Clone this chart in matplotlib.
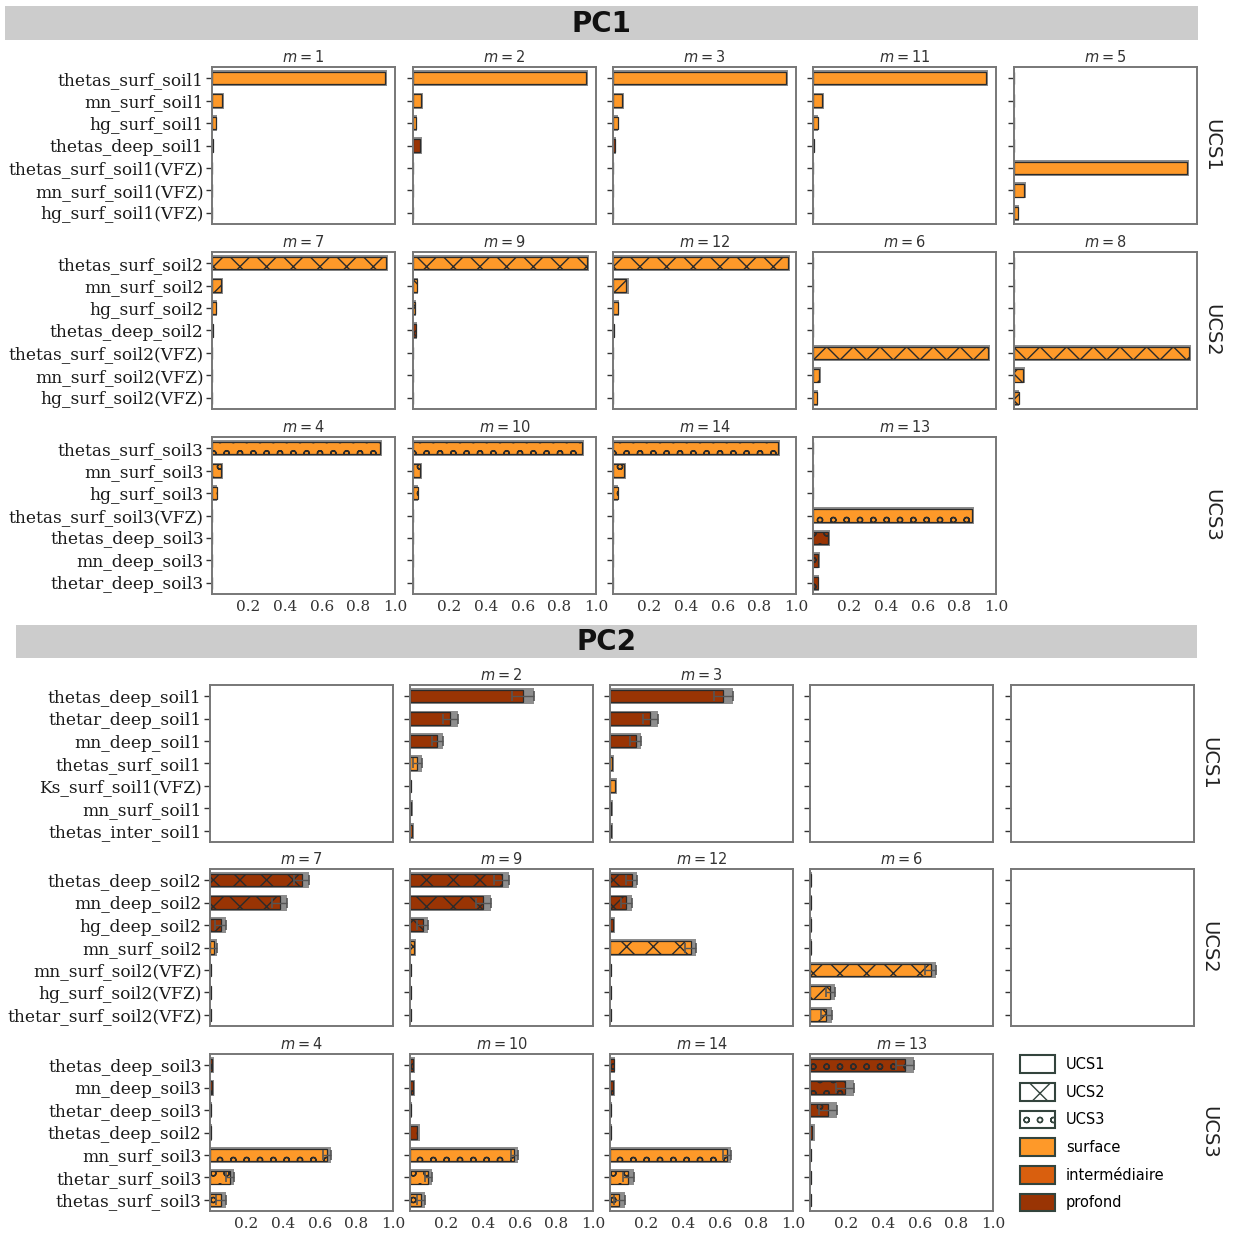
import matplotlib
matplotlib.use("Agg")
import matplotlib.pyplot as plt
from matplotlib.patches import Patch

# ---------------- data ----------------
layer_names = ["surface", "intermédiaire", "profond"]
layer_colors = ["#fe9929", "#d95f0e", "#993404"]
ucs_names = ["UCS1", "UCS2", "UCS3"]
ucs_hatches = ["", "xx", "oo"]
legend_hatches = ["", "x", "oo"]
xtick_vals = [0.2, 0.4, 0.6, 0.8, 1.0]

# PC1
pc1_r1_labels = ["thetas_surf_soil1", "mn_surf_soil1", "hg_surf_soil1", "thetas_deep_soil1",
                 "thetas_surf_soil1(VFZ)", "mn_surf_soil1(VFZ)", "hg_surf_soil1(VFZ)"]
pc1_r1_m = [1, 2, 3, 11, 5]
pc1_r1_vals = [[0.945, 0.055, 0.02, 0.003, 0, 0, 0],
               [0.945, 0.045, 0.015, 0.04, 0, 0, 0],
               [0.945, 0.05, 0.025, 0.01, 0, 0, 0],
               [0.945, 0.05, 0.025, 0.005, 0, 0, 0],
               [0, 0, 0, 0, 0.945, 0.055, 0.02]]
pc1_r1_errs = [[0.01, 0.01, 0.005, 0.003, 0, 0, 0],
               [0.01, 0.01, 0.005, 0.01, 0, 0, 0],
               [0.01, 0.01, 0.005, 0.005, 0, 0, 0],
               [0.01, 0.01, 0.005, 0.003, 0, 0, 0],
               [0, 0, 0, 0, 0.01, 0.01, 0.005]]

pc1_r2_labels = ["thetas_surf_soil2", "mn_surf_soil2", "hg_surf_soil2", "thetas_deep_soil2",
                 "thetas_surf_soil2(VFZ)", "mn_surf_soil2(VFZ)", "hg_surf_soil2(VFZ)"]
pc1_r2_m = [7, 9, 12, 6, 8]
pc1_r2_vals = [[0.95, 0.05, 0.02, 0.005, 0, 0, 0],
               [0.95, 0.02, 0.01, 0.015, 0, 0, 0],
               [0.955, 0.07, 0.03, 0.005, 0, 0, 0],
               [0, 0, 0, 0, 0.955, 0.035, 0.02],
               [0, 0, 0, 0, 0.955, 0.05, 0.025]]
pc1_r2_errs = [[0.01, 0.01, 0.005, 0.003, 0, 0, 0],
               [0.01, 0.005, 0.005, 0.005, 0, 0, 0],
               [0.01, 0.015, 0.005, 0.003, 0, 0, 0],
               [0, 0, 0, 0, 0.01, 0.01, 0.005],
               [0, 0, 0, 0, 0.01, 0.01, 0.005]]

pc1_r3_labels = ["thetas_surf_soil3", "mn_surf_soil3", "hg_surf_soil3", "thetas_surf_soil3(VFZ)",
                 "thetas_deep_soil3", "mn_deep_soil3", "thetar_deep_soil3"]
pc1_r3_m = [4, 10, 14, 13, None]
pc1_r3_vals = [[0.918, 0.05, 0.025, 0, 0, 0, 0],
               [0.923, 0.04, 0.025, 0, 0, 0, 0],
               [0.9, 0.06, 0.025, 0, 0, 0, 0],
               [0, 0, 0, 0.869, 0.08, 0.03, 0.025],
               None]
pc1_r3_errs = [[0.01, 0.01, 0.005, 0, 0, 0, 0],
               [0.01, 0.01, 0.005, 0, 0, 0, 0],
               [0.01, 0.01, 0.005, 0, 0, 0, 0],
               [0, 0, 0, 0.01, 0.015, 0.01, 0.01],
               None]

# PC2
pc2_r1_labels = ["thetas_deep_soil1", "thetar_deep_soil1", "mn_deep_soil1", "thetas_surf_soil1",
                 "Ks_surf_soil1(VFZ)", "mn_surf_soil1", "thetas_inter_soil1"]
pc2_r1_m = ["empty", 2, 3, "empty", "empty"]
pc2_r1_vals = [None,
               [0.62, 0.22, 0.15, 0.04, 0.003, 0.008, 0.01],
               [0.62, 0.22, 0.14, 0.01, 0.03, 0.008, 0.008],
               None, None]
pc2_r1_errs = [None,
               [0.06, 0.04, 0.03, 0.025, 0.004, 0.008, 0.01],
               [0.05, 0.04, 0.03, 0.01, 0.01, 0.008, 0.008],
               None, None]

pc2_r2_labels = ["thetas_deep_soil2", "mn_deep_soil2", "hg_deep_soil2", "mn_surf_soil2",
                 "mn_surf_soil2(VFZ)", "hg_surf_soil2(VFZ)", "thetar_surf_soil2(VFZ)"]
pc2_r2_m = [7, 9, 12, 6, "empty"]
pc2_r2_vals = [[0.5, 0.38, 0.06, 0.02, 0.003, 0.003, 0.003],
               [0.5, 0.4, 0.07, 0.02, 0.003, 0.003, 0.003],
               [0.12, 0.09, 0.015, 0.44, 0.003, 0.003, 0.003],
               [0.005, 0.005, 0.005, 0.005, 0.66, 0.11, 0.09],
               None]
pc2_r2_errs = [[0.04, 0.04, 0.03, 0.02, 0.004, 0.004, 0.004],
               [0.04, 0.04, 0.03, 0.015, 0.004, 0.004, 0.004],
               [0.03, 0.03, 0.015, 0.03, 0.004, 0.004, 0.004],
               [0.005, 0.005, 0.005, 0.005, 0.03, 0.025, 0.03],
               None]

pc2_r3_labels = ["thetas_deep_soil3", "mn_deep_soil3", "thetar_deep_soil3", "thetas_deep_soil2",
                 "mn_surf_soil3", "thetar_surf_soil3", "thetas_surf_soil3"]
pc2_r3_m = [4, 10, 14, 13, "legend"]
pc2_r3_vals = [[0.01, 0.01, 0.005, 0.005, 0.64, 0.11, 0.06],
               [0.015, 0.015, 0.005, 0.04, 0.57, 0.1, 0.06],
               [0.02, 0.015, 0.005, 0.005, 0.64, 0.1, 0.05],
               [0.52, 0.19, 0.1, 0.01, 0.003, 0.003, 0.003],
               None]
pc2_r3_errs = [[0.01, 0.01, 0.005, 0.005, 0.02, 0.02, 0.025],
               [0.01, 0.01, 0.005, 0.015, 0.02, 0.02, 0.02],
               [0.01, 0.01, 0.005, 0.005, 0.02, 0.03, 0.03],
               [0.05, 0.05, 0.05, 0.015, 0.005, 0.005, 0.005],
               None]

# ---------------- figure ----------------
DPI = 160
W, H = 1233, 1237


def pt(x):
    """size given as points at 100 dpi -> points at DPI"""
    return x * 100.0 / DPI


def rect(l, t, w, h):
    return [l / W, 1 - (t + h) / H, w / W, h / H]


def layer_of(label):
    if "_surf_" in label:
        return 0
    if "_inter_" in label:
        return 1
    return 2


fig = plt.figure(figsize=(W / DPI, H / DPI), dpi=DPI)
fig.patch.set_facecolor("white")
plt.rcParams["hatch.linewidth"] = pt(1.0)

serif = "DejaVu Serif"
sans = "DejaVu Sans"

groups = [
    ("PC1", (5, 6, 1193, 34), [212, 413, 613, 813, 1014], [67, 252, 437],
     [(pc1_r1_labels, pc1_r1_m, pc1_r1_vals, pc1_r1_errs),
      (pc1_r2_labels, pc1_r2_m, pc1_r2_vals, pc1_r2_errs),
      (pc1_r3_labels, pc1_r3_m, pc1_r3_vals, pc1_r3_errs)], 1212),
    ("PC2", (16, 625, 1181, 33), [210, 410, 610, 810, 1011], [685, 869, 1054],
     [(pc2_r1_labels, pc2_r1_m, pc2_r1_vals, pc2_r1_errs),
      (pc2_r2_labels, pc2_r2_m, pc2_r2_vals, pc2_r2_errs),
      (pc2_r3_labels, pc2_r3_m, pc2_r3_vals, pc2_r3_errs)], 1209),
]

PW, PH = 183, 157

for gname, hdr, lefts, tops, rows, ucs_x in groups:
    hax = fig.add_axes(rect(*hdr))
    hax.set_facecolor("#cccccc")
    for s in hax.spines.values():
        s.set_visible(False)
    hax.set_xticks([])
    hax.set_yticks([])
    hax.text(0.5, 0.47, gname, ha="center", va="center", fontsize=pt(20),
             fontweight="bold", family=sans, color="#111111", transform=hax.transAxes)

    for ri, (labels, ms, vals, errs) in enumerate(rows):
        hatch = ucs_hatches[ri]
        fig.text(ucs_x / W, 1 - (tops[ri] + PH / 2) / H, ucs_names[ri], rotation=270,
                 ha="center", va="center", fontsize=pt(14), family=sans, color="#222222")
        for ci in range(5):
            m = ms[ci]
            if m is None:
                continue
            if m == "legend":
                lax = fig.add_axes(rect(lefts[ci], tops[ri], PW, PH))
                lax.axis("off")
                handles = [Patch(facecolor="white", edgecolor="#33443d", hatch=legend_hatches[k],
                                 linewidth=pt(1.5), label=ucs_names[k]) for k in range(3)]
                handles += [Patch(facecolor=layer_colors[k], edgecolor="#33443d",
                                  linewidth=pt(1.5), label=layer_names[k]) for k in range(3)]
                lax.legend(handles=handles, loc="upper left", bbox_to_anchor=(0.02, 1.03),
                           frameon=False, prop={"family": sans, "size": pt(10.5)},
                           handlelength=2.4, handleheight=1.5, labelspacing=0.68,
                           handletextpad=0.7, borderaxespad=0.0)
                continue
            ax = fig.add_axes(rect(lefts[ci], tops[ri], PW, PH))
            ypos = list(range(len(labels)))
            if m != "empty":
                v = vals[ci]
                e = errs[ci]
                tot = [a + b for a, b in zip(v, e)]
                ax.barh(ypos, tot, height=0.72, color="#8e8e8e", linewidth=0, zorder=1)
                cols = [layer_colors[layer_of(lb)] for lb in labels]
                ax.barh(ypos, v, height=0.55, color=cols, edgecolor="#2b2b2b",
                        linewidth=pt(0.9), hatch=hatch, zorder=2)
                big = [i for i in ypos if e[i] >= 0.02]
                if big:
                    ax.errorbar([v[i] for i in big], big, xerr=[e[i] for i in big], fmt="none",
                                ecolor="#555555", elinewidth=pt(1.0), capsize=pt(3.5),
                                capthick=pt(1.2), zorder=3)
                ax.set_title(r"$m = %d$" % m, fontsize=pt(10.5), pad=pt(3.5), color="#333333")
            ax.set_xlim(0, 1.0)
            ax.set_ylim(len(labels) - 0.5, -0.5)
            ax.set_yticks(ypos)
            if ci == 0:
                ax.set_yticklabels(labels, family=serif, fontsize=pt(12.2), color="#1a1a1a")
            else:
                ax.set_yticklabels([])
            ax.set_xticks(xtick_vals)
            if ri == 2:
                ax.set_xticklabels(["%.1f" % t for t in xtick_vals], family=serif,
                                   fontsize=pt(11), color="#333333")
            else:
                ax.set_xticklabels([])
            ax.tick_params(axis="x", length=0, pad=pt(4))
            ax.tick_params(axis="y", length=pt(4), width=pt(1), color="#333333", pad=pt(2))
            for s in ax.spines.values():
                s.set_color("#777777")
                s.set_linewidth(pt(1.4))

fig.savefig("out.png", dpi=DPI, facecolor="white")
